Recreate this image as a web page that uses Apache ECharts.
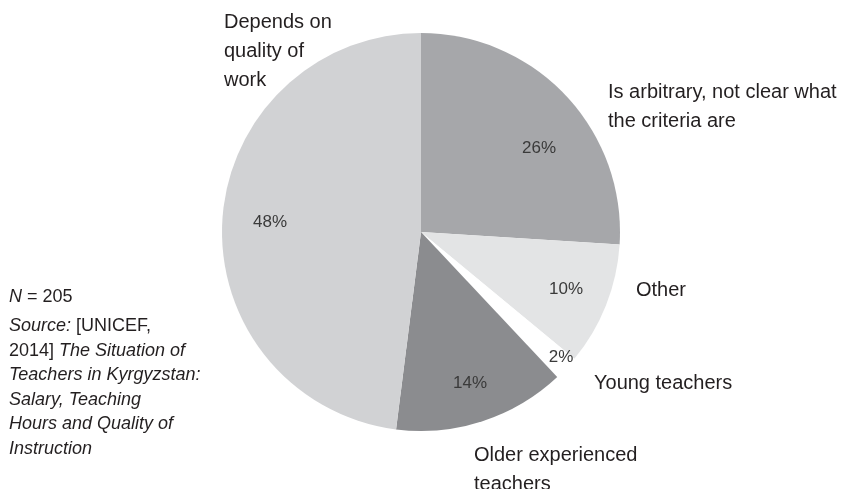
<!DOCTYPE html>
<html><head><meta charset="utf-8">
<script src="https://cdn.jsdelivr.net/npm/echarts@6/dist/echarts.min.js"></script>
<style>html,body{margin:0;padding:0;background:#fff}#c{width:845px;height:489px}</style>
</head><body><div id="c"></div>
<script>
const categories = ["Is arbitrary, not clear what\nthe criteria are", "Other", "Young teachers", "Older experienced\nteachers", "Depends on\nquality of\nwork"];
const values = [26, 10, 2, 14, 48];
const percentLabels = ["26%", "10%", "2%", "14%", "48%"];

const colors = ["#a6a7aa", "#e3e4e5", "#ffffff", "#8b8c8f", "#d1d2d4"];
const FONT = '"Liberation Sans", Arimo, Roboto, sans-serif';
const pctPos = [[539,148],[566,289],[561,357],[470,383],[270,222]];
const namePos = [[608,78],[636,290],[594,383],[474,441],[224,8]];
const nameVA = ['top','middle','middle','top','top'];

const chart = echarts.init(document.getElementById('c'), null, {renderer:'canvas'});
const base = {
  type: 'pie', center: [421, 232], radius: [0, 199], startAngle: 90, clockwise: true,
  animation: false, avoidLabelOverlap: false, labelLine: {show: false}
};
chart.setOption({
  backgroundColor: '#fff',
  series: [
    Object.assign({}, base, {
      data: values.map((v, i) => ({value: v, name: categories[i], itemStyle: {color: colors[i]}})),
      label: {show: true, position: 'inside', formatter: p => percentLabels[p.dataIndex],
        fontFamily: FONT, fontSize: 17, color: '#3a3a3a'},
      labelLayout: p => ({x: pctPos[p.dataIndex][0], y: pctPos[p.dataIndex][1], align: 'center', verticalAlign: 'middle'})
    }),
    Object.assign({}, base, {
      silent: true,
      data: values.map((v, i) => ({value: v, name: categories[i], itemStyle: {color: 'rgba(0,0,0,0)'}})),
      label: {show: true, position: 'outside', formatter: '{b}', fontFamily: FONT, fontSize: 20,
        lineHeight: 29, color: '#231f20', align: 'left'},
      labelLayout: p => ({x: namePos[p.dataIndex][0], y: namePos[p.dataIndex][1], align: 'left', verticalAlign: nameVA[p.dataIndex]})
    })
  ],
  graphic: [
    {type: 'text', left: 9, top: 288, style: {
      text: '{i|N} = 205', fontFamily: FONT, fontSize: 18, fill: '#231f20',
      rich: {i: {fontStyle: 'italic', fontFamily: FONT, fontSize: 18}}}},
    {type: 'text', left: 9, top: 314, style: {
      text: '{i|Source:} [UNICEF,\n2014] {i|The Situation of}\n{i|Teachers in Kyrgyzstan:}\n{i|Salary, Teaching}\n{i|Hours and Quality of}\n{i|Instruction}',
      fontFamily: FONT, fontSize: 18, lineHeight: 24.5, fill: '#231f20',
      rich: {i: {fontStyle: 'italic', fontFamily: FONT, fontSize: 18, lineHeight: 24.5}}}}
  ]
});
</script></body></html>
